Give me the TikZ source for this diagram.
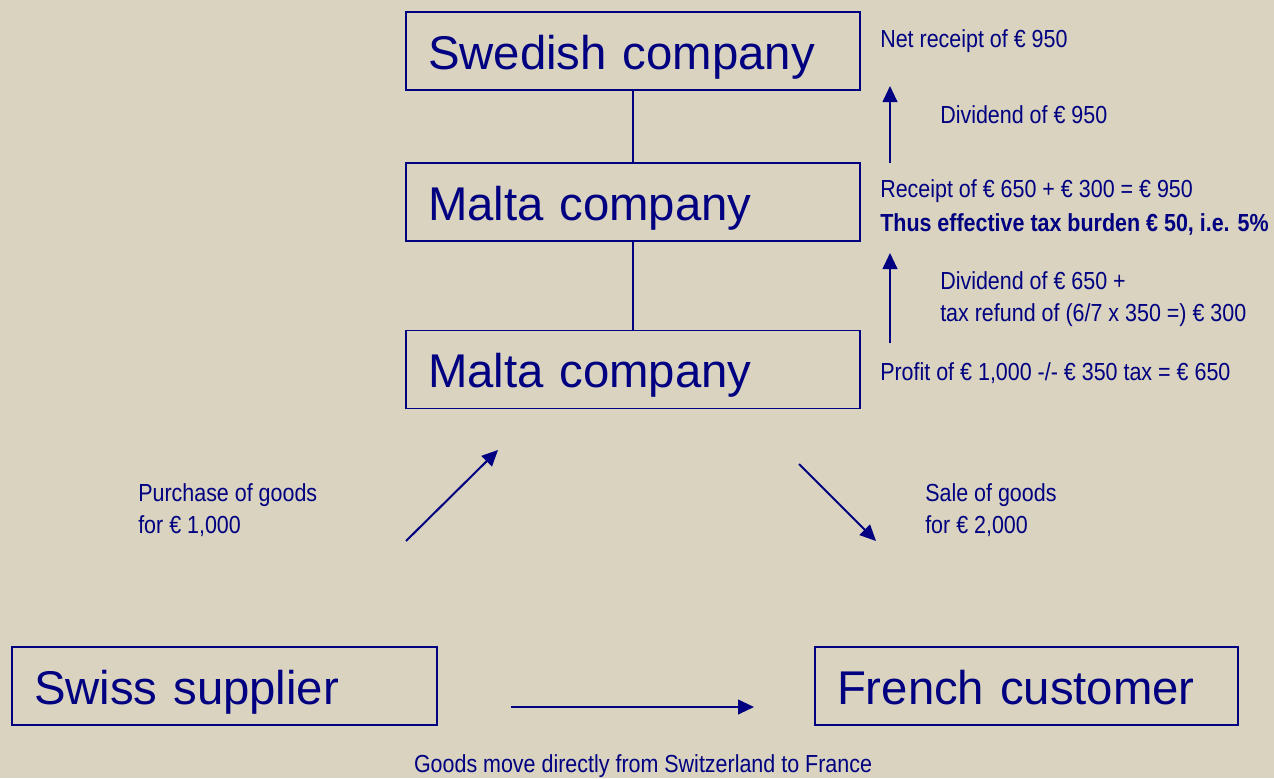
\documentclass[tikz,border=0pt]{standalone}
\usepackage{fontspec}
\setmainfont{Liberation Sans}
\newfontfamily\narrowfont[FakeStretch=0.87]{Liberation Sans}
\usetikzlibrary{arrows.meta}

\definecolor{paper}{RGB}{217,211,192}
\definecolor{navy}{RGB}{0,0,128}
\newcommand{\eur}{€}

\tikzset{
  firm/.style={draw=navy, line width=1.3pt, minimum width=340.5pt, minimum height=58.5pt,
    text width=307.5pt, text height=27pt, text depth=0pt, inner sep=0pt, align=left,
    text=navy, font=\fontsize{35.5}{40}\selectfont},
  note/.style={anchor=west, inner sep=0pt, text=navy, align=left,
    font=\narrowfont\fontsize{18.5}{24}\selectfont},
  flow/.style={draw=navy, line width=1.5pt, -{Triangle[length=12pt,width=11pt]}},
  link/.style={draw=navy, line width=1pt}
}

\begin{document}
\begin{tikzpicture}[x=0.75pt, y=-0.75pt]
  \fill[paper] (0,0) rectangle (1274,778);
  \useasboundingbox (0,0) rectangle (1274,778);

  % companies
  \node[firm] (swe) at (633,51) {Swedish company};
  \node[firm] (mal1) at (633,202) {Malta company};
  \node[firm] (mal2) at (633,369.5) {Malta company};
  \node[firm, minimum width=318.75pt, text width=285.75pt] (swiss) at (224.5,686) {Swiss supplier};
  \node[firm, minimum width=317.25pt, text width=284.25pt] (french) at (1026.5,686) {French customer};

  \draw[link] (swe) -- (mal1);
  \draw[link] (mal1) -- (mal2);

  % texts
  \node[note] (net) at (880,41) {Net receipt of \eur\ 950};
  \node[note] (div1) at (940,115) {Dividend of \eur\ 950};
  \node[note] (rec) at (880,191) {Receipt of \eur\ 650 + \eur\ 300 = \eur\ 950};
  \node[note, font=\narrowfont\bfseries\fontsize{18.5}{24}\selectfont] (burden) at (880,224)
    {Thus effective tax burden \eur\ 50, i.e. 5\%};
  \node[note] (div2) at (940,299) {Dividend of \eur\ 650 +\\tax refund of (6/7 x 350 =) \eur\ 300};
  \node[note] (profit) at (880,373) {Profit of \eur\ 1,000 -/- \eur\ 350 tax = \eur\ 650};
  \node[note] (buy) at (138,510) {Purchase of goods\\for \eur\ 1,000};
  \node[note] (sell) at (925,510) {Sale of goods\\for \eur\ 2,000};
  \node[note, anchor=center] (move) at (643,766) {Goods move directly from Switzerland to France};

  % arrows
  \coordinate (d1a) at (890,163);  \coordinate (d1b) at (890,86);
  \coordinate (d2a) at (890,343);  \coordinate (d2b) at (890,253);
  \coordinate (pa) at (406,541);   \coordinate (pb) at (498,450);
  \coordinate (sa) at (799,464);   \coordinate (sb) at (876,541);
  \coordinate (ga) at (511,707);   \coordinate (gb) at (754,707);
  \foreach \a/\b in {d1a/d1b, d2a/d2b, pa/pb, sa/sb, ga/gb} { \draw[flow] (\a) -- (\b); }
\end{tikzpicture}
\end{document}
